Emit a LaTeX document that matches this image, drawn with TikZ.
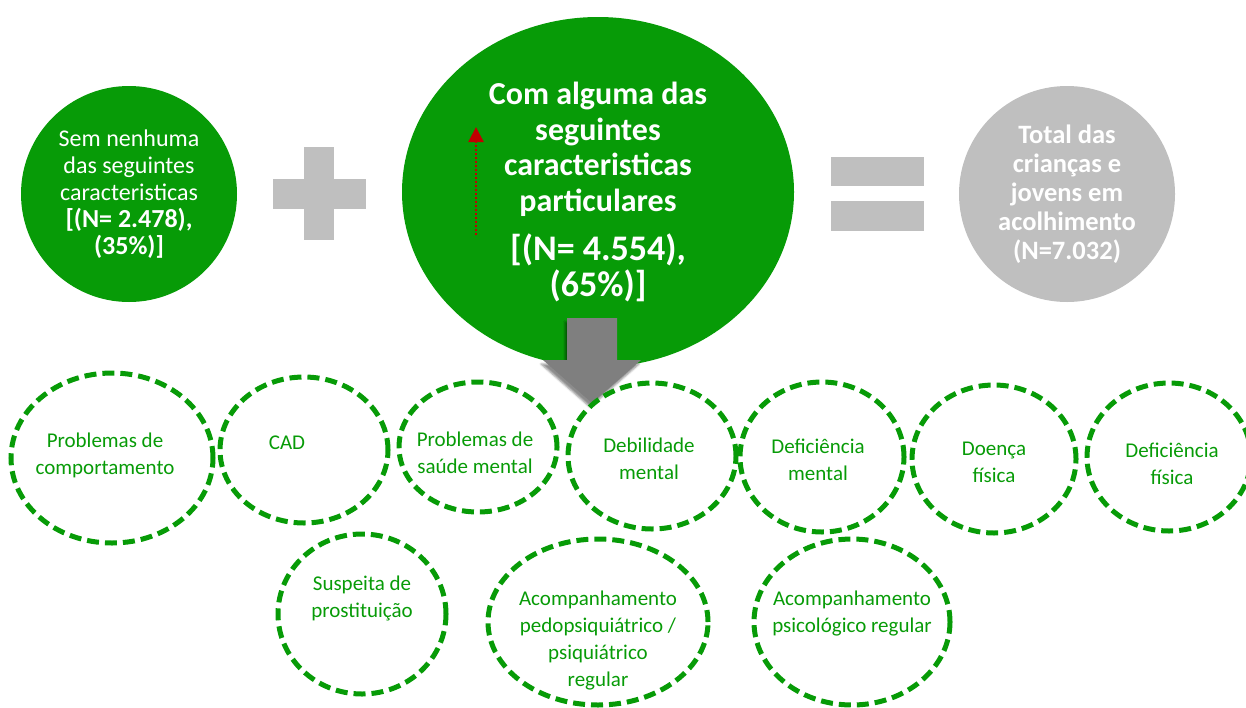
\documentclass[tikz,border=0pt]{standalone}
\usepackage{fontspec}
\setmainfont{Carlito}
\usetikzlibrary{arrows.meta,shapes.geometric,shadows.blur}
\definecolor{leaf}{HTML}{079B07}
\definecolor{ash}{HTML}{BFBFBF}
\definecolor{steel}{HTML}{7F7F7F}
\definecolor{wine}{HTML}{C00000}

\begin{document}
\begin{tikzpicture}[x=1pt, y=-1pt,
  disc/.style={circle, fill=leaf, text=white, align=center, inner sep=0pt, minimum size=216pt},
  ring/.style={ellipse, draw=leaf, line width=5pt, dash pattern=on 12pt off 6pt, inner sep=0pt},
  tag/.style={text=leaf, align=center, inner sep=0pt, font=\fontsize{21}{27}\selectfont},
  sign/.style={fill=ash},
  dotarr/.style={wine, line width=2.5pt, dash pattern=on 2pt off 2pt, -{Triangle[width=15pt,length=15pt]}},
  blockarr/.style={fill=steel, blur shadow={shadow xshift=-2pt, shadow yshift=-4pt, shadow opacity=45}}
]
\useasboundingbox (0,0) rectangle (1246,707);

\node[disc, font=\fontsize{24}{27}\selectfont] (none) at (129,194) {Sem nenhuma\\das seguintes\\caracteristicas\\\fontsize{26}{27}\selectfont\bfseries [(N= 2.478),\\\fontsize{26}{27}\selectfont\bfseries (35\%)]};
\fill[sign] (273,179) rectangle (366,209);
\fill[sign] (304,147) rectangle (334,240);
\node[ellipse, fill=leaf, text=white, align=center, inner sep=0pt, minimum width=392pt, minimum height=350pt, font=\bfseries\fontsize{32}{35.5}\selectfont] (some) at (598,192) {Com alguma das\\seguintes\\caracteristicas\\particulares\\[14pt]\fontsize{36}{39}\selectfont [(N= 4.554),\\\fontsize{36}{39}\selectfont (65\%)]};
\fill[sign] (831,157) rectangle (924,186);
\fill[sign] (831,201) rectangle (924,231);
\node[disc, fill=ash, font=\bfseries\fontsize{26.5}{29}\selectfont] (total) at (1067,194) {Total das\\crianças e\\jovens em\\acolhimento\\(N=7.032)};

\coordinate (upTail) at (476,235);
\coordinate (upTip) at (476,127);
\draw[dotarr] (upTail) -- (upTip);
\fill[blockarr] (567,318) -- (617,318) -- (617,360) -- (641,360) -- (592,403) -- (543,360) -- (567,360) -- cycle;

\node[ring, minimum width=202pt, minimum height=170pt] (comport) at (112,458) {};
\node[ring, minimum width=168pt, minimum height=146pt] (cad) at (304,450) {};
\node[ring, minimum width=158pt, minimum height=130pt] (saude) at (478,447) {};
\node[ring, minimum width=168pt, minimum height=146pt] (debil) at (652,456) {};
\node[ring, minimum width=164pt, minimum height=150pt] (defment) at (822,457) {};
\node[ring, minimum width=164pt, minimum height=148pt] (doenca) at (994,459) {};
\node[ring, minimum width=164pt, minimum height=148pt] (defis) at (1169,457) {};
\node[ring, minimum width=168pt, minimum height=160pt] (suspeita) at (362,614) {};
\node[ring, minimum width=220pt, minimum height=166pt] (pedo) at (598,622) {};
\node[ring, minimum width=196pt, minimum height=166pt] (psico) at (852,622) {};

\node[tag] (comportT) at (105,455) {Problemas de\\comportamento};
\node[tag] (cadT) at (287,443) {CAD};
\node[tag] (saudeT) at (475,453) {Problemas de\\saúde mental};
\node[tag] (debilT) at (649,459) {Debilidade\\mental};
\node[tag] (defmentT) at (818,460) {Deficiência\\mental};
\node[tag] (doencaT) at (994,462) {Doença\\física};
\node[tag] (defisT) at (1172,464) {Deficiência\\física};
\node[tag] (suspeitaT) at (362,598) {Suspeita de\\prostituição};
\node[tag] (pedoT) at (598,641) {Acompanhamento\\pedopsiquiátrico /\\psiquiátrico\\regular};
\node[tag] (psicoT) at (852,614) {Acompanhamento\\psicológico regular};
\end{tikzpicture}
\end{document}
